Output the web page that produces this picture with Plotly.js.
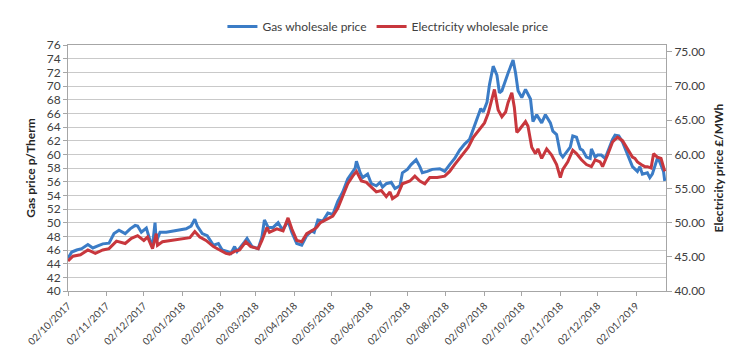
<!DOCTYPE html>
<html>
<head>
<meta charset="utf-8">
<script src="https://cdn.plot.ly/plotly-3.0.1.min.js"></script>
<style>html,body{margin:0;padding:0;background:#fff;}#chart{width:738px;height:353px;}</style>
</head>
<body>
<div id="chart"></div>
<script>
var gasDates = ["2017-10-02","2017-10-05","2017-10-09","2017-10-13","2017-10-18","2017-10-22","2017-10-26","2017-10-30","2017-11-04","2017-11-08","2017-11-12","2017-11-17","2017-11-21","2017-11-25","2017-11-27","2017-11-30","2017-12-04","2017-12-07","2017-12-09","2017-12-11","2017-12-12","2017-12-15","2017-12-20","2017-12-28","2018-01-05","2018-01-09","2018-01-12","2018-01-14","2018-01-18","2018-01-22","2018-01-27","2018-01-31","2018-02-03","2018-02-07","2018-02-10","2018-02-13","2018-02-15","2018-02-21","2018-02-23","2018-02-27","2018-03-04","2018-03-07","2018-03-09","2018-03-12","2018-03-16","2018-03-20","2018-03-23","2018-03-25","2018-03-28","2018-03-31","2018-04-04","2018-04-08","2018-04-12","2018-04-16","2018-04-18","2018-04-21","2018-04-25","2018-04-29","2018-05-03","2018-05-07","2018-05-11","2018-05-15","2018-05-18","2018-05-21","2018-05-22","2018-05-25","2018-05-27","2018-05-31","2018-06-03","2018-06-07","2018-06-10","2018-06-12","2018-06-15","2018-06-19","2018-06-22","2018-06-26","2018-06-28","2018-07-02","2018-07-05","2018-07-09","2018-07-12","2018-07-14","2018-07-18","2018-07-22","2018-07-28","2018-08-01","2018-08-05","2018-08-09","2018-08-13","2018-08-17","2018-08-21","2018-08-24","2018-08-27","2018-08-30","2018-09-01","2018-09-04","2018-09-06","2018-09-09","2018-09-12","2018-09-14","2018-09-16","2018-09-19","2018-09-21","2018-09-25","2018-09-27","2018-09-29","2018-10-02","2018-10-05","2018-10-09","2018-10-11","2018-10-14","2018-10-18","2018-10-21","2018-10-25","2018-10-27","2018-10-30","2018-11-02","2018-11-04","2018-11-07","2018-11-10","2018-11-12","2018-11-15","2018-11-18","2018-11-20","2018-11-23","2018-11-26","2018-11-27","2018-11-30","2018-12-02","2018-12-05","2018-12-08","2018-12-10","2018-12-14","2018-12-16","2018-12-19","2018-12-22","2018-12-26","2018-12-30","2019-01-03","2019-01-05","2019-01-07","2019-01-11","2019-01-13","2019-01-15","2019-01-19","2019-01-21","2019-01-24","2019-01-25"];
var gasPrice = [44.8,45.7,46.0,46.2,46.8,46.3,46.6,46.9,47.0,48.4,48.9,48.4,49.1,49.6,49.5,48.6,49.2,47.4,46.7,50.0,47.2,48.6,48.6,48.9,49.1,49.5,50.5,49.5,48.4,48.1,46.7,46.95,46.0,45.8,45.5,46.5,45.8,47.2,47.7,46.5,46.2,47.9,50.4,49.3,49.3,50.0,49.1,49.3,50.25,48.6,46.95,46.7,48.1,48.8,48.6,50.4,50.25,51.4,51.2,53.1,54.5,56.4,57.3,58.0,59.0,57.3,56.6,57.1,55.7,55.4,55.9,55.2,55.7,55.9,55.0,55.4,57.3,57.8,58.5,59.2,58.2,57.3,57.5,57.8,57.9,57.5,58.5,59.4,60.6,61.5,62.2,63.6,65.3,66.7,66.2,67.6,70.2,72.9,71.6,69.0,69.3,70.7,71.9,73.8,71.9,69.3,68.3,69.5,68.1,64.8,65.8,64.6,65.8,64.6,63.4,62.9,60.1,59.6,60.3,61.05,62.7,62.5,60.8,60.6,59.6,59.4,60.8,59.6,59.9,59.9,59.4,60.3,62.2,62.8,62.7,61.8,60.1,58.2,57.5,58.2,57.1,57.3,56.6,57.1,59.4,58.9,57.5,56.1];

var elecDates = ["2017-10-02","2017-10-06","2017-10-12","2017-10-18","2017-10-24","2017-10-30","2017-11-04","2017-11-10","2017-11-17","2017-11-22","2017-11-27","2017-12-02","2017-12-05","2017-12-09","2017-12-12","2017-12-13","2017-12-17","2017-12-25","2018-01-02","2018-01-08","2018-01-12","2018-01-16","2018-01-21","2018-01-27","2018-02-01","2018-02-06","2018-02-09","2018-02-13","2018-02-17","2018-02-22","2018-02-26","2018-03-04","2018-03-07","2018-03-11","2018-03-13","2018-03-19","2018-03-24","2018-03-28","2018-03-31","2018-04-04","2018-04-08","2018-04-12","2018-04-16","2018-04-20","2018-04-23","2018-04-28","2018-05-03","2018-05-07","2018-05-11","2018-05-15","2018-05-19","2018-05-22","2018-05-26","2018-05-30","2018-06-03","2018-06-07","2018-06-11","2018-06-15","2018-06-18","2018-06-20","2018-06-24","2018-06-28","2018-07-04","2018-07-08","2018-07-12","2018-07-16","2018-07-20","2018-07-26","2018-08-01","2018-08-05","2018-08-09","2018-08-15","2018-08-20","2018-08-24","2018-08-28","2018-08-31","2018-09-02","2018-09-05","2018-09-08","2018-09-10","2018-09-13","2018-09-16","2018-09-19","2018-09-21","2018-09-24","2018-09-26","2018-09-28","2018-09-30","2018-10-05","2018-10-07","2018-10-10","2018-10-13","2018-10-15","2018-10-18","2018-10-22","2018-10-26","2018-10-30","2018-11-02","2018-11-04","2018-11-08","2018-11-12","2018-11-15","2018-11-19","2018-11-23","2018-11-27","2018-11-30","2018-12-04","2018-12-06","2018-12-10","2018-12-14","2018-12-18","2018-12-22","2018-12-26","2018-12-30","2019-01-01","2019-01-03","2019-01-06","2019-01-09","2019-01-11","2019-01-14","2019-01-16","2019-01-19","2019-01-22","2019-01-25"];
var elecPrice = [44.4,45.1,45.3,46.0,45.5,46.0,46.2,47.3,46.95,47.7,48.1,47.4,47.9,46.2,48.4,46.7,47.2,47.4,47.7,47.8,48.7,47.9,47.4,46.5,46.0,45.5,45.4,45.8,46.0,47.2,46.5,46.2,47.4,49.3,48.6,49.1,48.8,50.7,49.1,47.4,47.2,48.4,48.8,49.3,50.0,50.5,50.95,52.1,53.8,55.7,56.8,57.5,56.1,55.9,55.2,54.5,54.7,53.8,54.5,53.5,54.0,55.7,56.1,56.8,56.1,55.7,56.6,56.6,56.8,57.5,58.5,59.9,61.05,62.5,63.4,64.1,64.6,66.0,67.9,69.5,66.5,65.5,66.2,67.6,69.0,66.9,63.2,63.6,64.8,64.1,61.05,60.1,60.8,59.4,60.8,59.9,58.5,56.6,57.8,58.9,60.6,60.1,59.2,58.5,58.2,59.2,58.9,58.2,59.9,61.8,62.5,62.0,60.8,59.6,59.4,58.9,58.5,58.2,58.2,58.0,60.1,59.6,59.4,57.5];

var monthTicks = ["2017-10-02","2017-11-02","2017-12-02","2018-01-02","2018-02-02","2018-03-02","2018-04-02","2018-05-02","2018-06-02","2018-07-02","2018-08-02","2018-09-02","2018-10-02","2018-11-02","2018-12-02","2019-01-02"];
var gasTicks = [40,42,44,46,48,50,52,54,56,58,60,62,64,66,68,70,72,74,76];
var elecTicks = [40,45,50,55,60,65,70,75];
var elecTickText = ["40.00","45.00","50.00","55.00","60.00","65.00","70.00","75.00"];

var FONT = "Lato, 'Open Sans', sans-serif";
var traces = [
  {x: gasDates, y: gasPrice, name: "Gas wholesale price", type: "scatter", mode: "lines",
   line: {color: "#3b7cc6", width: 3}, yaxis: "y"},
  {x: elecDates, y: elecPrice, name: "Electricity wholesale price", type: "scatter", mode: "lines",
   line: {color: "#c8373d", width: 3}, yaxis: "y2"}
];
var layout = {
  width: 738, height: 353,
  margin: {l: 68, r: 72, t: 36, b: 62, pad: 0},
  paper_bgcolor: "#fff", plot_bgcolor: "#fff",
  font: {family: FONT, size: 12, color: "#404040"},
  showlegend: true,
  legend: {orientation: "h", x: 0.535, xanchor: "center", y: 1.075, yanchor: "middle",
           font: {family: FONT, size: 12, color: "#404040"}, itemwidth: 30, traceorder: "normal",
           bgcolor: "rgba(0,0,0,0)"},
  xaxis: {type: "date", range: ["2017-10-02", "2019-01-26"], tickmode: "array", tickvals: monthTicks,
          tickformat: "%d/%m/%Y", tickangle: -45, tickfont: {size: 10, color: "#404040"},
          ticks: "outside", ticklen: 4, tickcolor: "#a6a6a6", showgrid: false,
          showline: true, linecolor: "#a6a6a6", linewidth: 1, mirror: true, zeroline: false},
  yaxis: {range: [40, 76], tickmode: "array", tickvals: gasTicks, tickfont: {size: 12, color: "#404040"},
          ticks: "outside", ticklen: 4, tickcolor: "#a6a6a6", showgrid: true, gridcolor: "#c9c9c9", gridwidth: 1,
          showline: true, linecolor: "#a6a6a6", linewidth: 1, zeroline: false,
          title: {text: "<b>Gas price p/Therm</b>", font: {size: 12, color: "#262626"}, standoff: 8}},
  yaxis2: {range: [40, 76], overlaying: "y", side: "right", tickmode: "array", tickvals: elecTicks, ticktext: elecTickText,
           tickfont: {size: 12, color: "#404040"}, ticks: "outside", ticklen: 5, tickcolor: "#a6a6a6",
           showgrid: false, showline: true, linecolor: "#a6a6a6", linewidth: 1, zeroline: false,
           title: {text: "<b>Electricity price £/MWh</b>", font: {size: 12, color: "#262626"}, standoff: 10}}
};
Plotly.newPlot("chart", traces, layout, {displayModeBar: false, staticPlot: true});
</script>
</body>
</html>
